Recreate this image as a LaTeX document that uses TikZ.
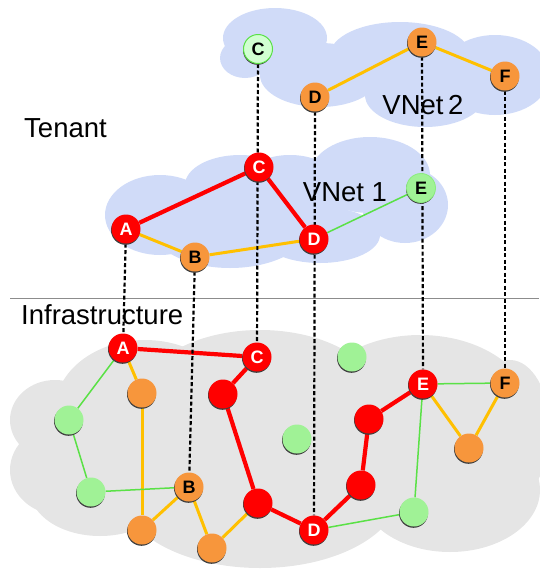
\documentclass[tikz,border=0pt]{standalone}
\usepackage{fontspec}
\setsansfont{Liberation Sans}
\usetikzlibrary{shadows}
\pgfdeclarelayer{clouds}
\pgfdeclarelayer{links}
\pgfsetlayers{clouds,links,main}
\definecolor{cloudblue}{RGB}{208,219,248}
\definecolor{cloudgray}{RGB}{229,229,229}
\definecolor{vred}{RGB}{255,0,0}
\definecolor{vorange}{RGB}{247,150,60}
\definecolor{vgreen}{RGB}{160,242,150}
\definecolor{lgreen}{RGB}{90,225,70}
\definecolor{lyellow}{RGB}{255,192,0}
\begin{document}
\begin{tikzpicture}[x=1pt,y=-1pt,font=\sffamily,line join=round,line cap=round,
	vnode/.style={circle,minimum size=29pt,inner sep=0pt,font=\sffamily\bfseries\fontsize{18}{18}\selectfont,
		drop shadow={shadow xshift=-0.5pt,shadow yshift=-1.3pt,fill=black!75,opacity=1}},
	rednode/.style={vnode,fill=vred,text=white},
	orangenode/.style={vnode,fill=vorange},
	greennode/.style={vnode,fill=vgreen},
	palenode/.style={vnode,fill=green!18,draw=lgreen,line width=1pt},
	redlink/.style={draw=vred,line width=4.2pt},
	yellowlink/.style={draw=lyellow,line width=3pt},
	greenlink/.style={draw=lgreen,line width=1.5pt},
	maplink/.style={draw=black,line width=2.2pt,dash pattern=on 4pt off 2.5pt,line cap=butt},
	biglabel/.style={font=\sffamily\fontsize{27.5}{27.5}\selectfont,inner sep=0pt}]
	\useasboundingbox (0,0) rectangle (539,570);
	\clip (0,0) rectangle (539,570);
	\begin{pgfonlayer}{clouds}
		\foreach \x/\y/\a/\b in {275/38/52/30,245/58/25/20,320/75/60/32,400/55/70/33,425/95/60/32,495/75/55/40}
			{\fill[cloudblue] (\x,\y) ellipse [x radius=\a pt,y radius=\b pt];}
		\foreach \x/\y/\a/\b in {160/215/55/40,230/225/80/43,240/185/55/30,290/200/60/45,370/175/60/38,405/205/43/38,320/235/60/28}
			{\fill[cloudblue] (\x,\y) ellipse [x radius=\a pt,y radius=\b pt];}
		\foreach \x/\y/\a/\b in {55/420/45/40,60/470/50/45,100/490/70/46,145/410/90/70,260/400/120/70,260/490/140/78,420/410/110/75,450/490/90/62,510/430/40/70}
			{\fill[cloudgray] (\x,\y) ellipse [x radius=\a pt,y radius=\b pt];}
		\draw[black!45,line width=1pt] (10,298) -- (539,298);
		\node[biglabel,anchor=west] (tenant) at (24,128) {Tenant};
		\node[biglabel,anchor=west] (infra) at (21,315) {Infrastructure};
		\node[biglabel] (vnetb) at (423,105) {VNet\,2};
		\node[biglabel] (vneta) at (345,192) {VNet 1};
	\end{pgfonlayer}
	\node[palenode] (c2) at (258,49) {C};
	\foreach \n/\x/\y/\l in {d2/315/97/D,e2/422/42/E,f2/505/76/F,b1/195/257/B,Bi/189/487/B,Fi/505/383/F}
		{\node[orangenode] (\n) at (\x,\y) {\l};}
	\foreach \n/\x/\y/\l in {a1/126/229/A,c1/259/167/C,d1/314/239/D,Ai/123/348/A,Ci/257/357/C,Di/314/530/D,Ei/423/384/E}
		{\node[rednode] (\n) at (\x,\y) {\l};}
	\node[greennode,draw=vgreen!70!lgreen,line width=0.8pt] (e1) at (421,188) {E};
	\foreach \n/\x/\y in {o1/142/393,o2/142/530,o3/212/548,o4/469/448}
		{\node[orangenode] (\n) at (\x,\y) {};}
	\foreach \n/\x/\y in {r1/223/394,r2/258/503,r3/369/419,r4/361/485}
		{\node[rednode] (\n) at (\x,\y) {};}
	\foreach \n/\x/\y in {g1/69/420,g2/91/492,g3/352/357,g4/297/439,g5/414/512}
		{\node[greennode] (\n) at (\x,\y) {};}
	\begin{pgfonlayer}{links}
		\foreach \s/\t in {a1/c1,c1/d1,Ai/Ci,Ci/r1,r1/r2,r2/Di,Di/r4,r4/r3,r3/Ei}
			{\draw[redlink] (\s) -- (\t);}
		\foreach \s/\t in {d2/e2,e2/f2,a1/b1,b1/d1,Ai/o1,o1/o2,o2/Bi,Bi/o3,o3/r2,Ei/o4,o4/Fi}
			{\draw[yellowlink] (\s) -- (\t);}
		\foreach \s/\t in {d1/e1,Ai/g1,g1/g2,g2/Bi,Di/g5,g5/Ei,Ei/Fi}
			{\draw[greenlink] (\s) -- (\t);}
		\foreach \s/\t in {c2/Ci,d2/Di,e2/Ei,f2/Fi,a1/Ai,b1/Bi}
			{\draw[maplink] (\s) -- (\t);}
	\end{pgfonlayer}
\end{tikzpicture}
\end{document}
